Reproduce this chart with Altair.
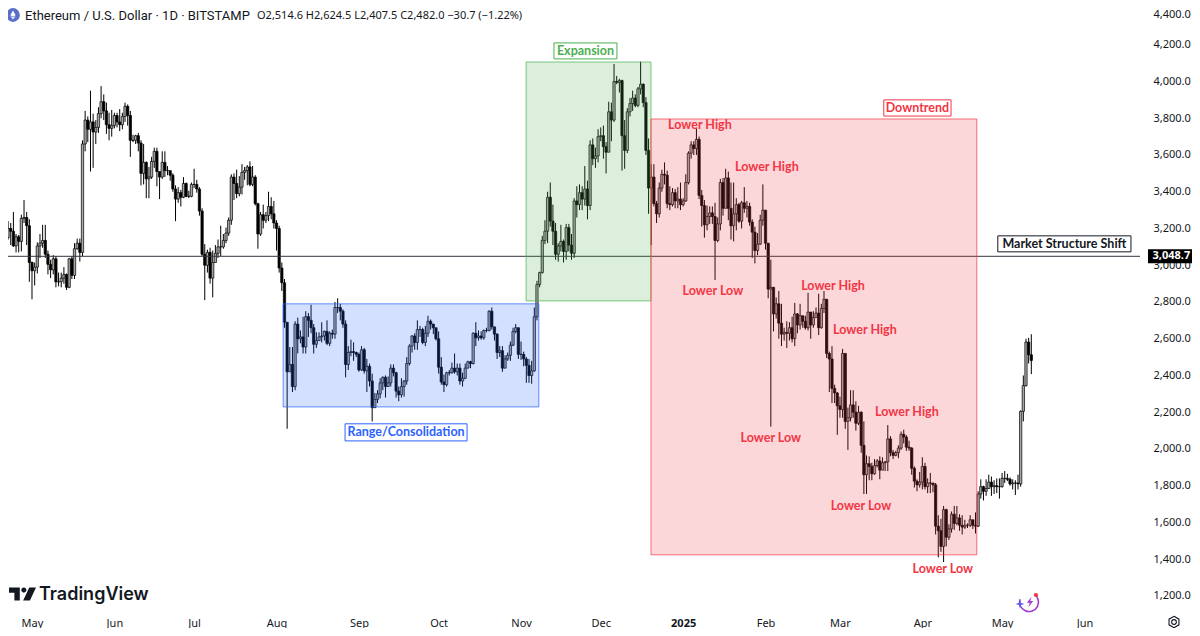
import altair as alt
import pandas as pd

# Daily closes / highs / lows by month, ETH/USD
c_apr24 = [3200,3185,3105,3155,3130,3255,3260,3215,3015]
h_apr24 = [3240,3230,3290,3170,3165,3275,3355,3290,3250]
l_apr24 = [3140,3110,3100,3070,3070,3075,3230,3110,2910]
c_may24 = [2970,2990,3105,3120,3135,3060,3005,2975,3035,2910,2910,2930,2950,2880,3035,2945,3090,3120,3070,3660,3790,3740,3780,3725,3750,3825,3890,3840,3765,3745,3760]
h_may24 = [3020,3015,3125,3170,3220,3220,3080,3030,3055,3050,2960,2960,2990,2955,3040,3050,3120,3145,3145,3680,3840,3810,3950,3825,3790,3860,3975,3930,3885,3830,3845]
l_may24 = [2815,2890,2955,3040,3095,3040,2950,2930,2950,2880,2885,2880,2900,2865,2875,2925,2925,3085,3020,3050,3620,3670,3510,3530,3660,3720,3800,3790,3715,3680,3700]
c_jun24 = [3815,3780,3765,3810,3865,3815,3680,3680,3705,3665,3500,3560,3470,3480,3565,3620,3510,3480,3560,3515,3515,3490,3415,3360,3395,3370,3445,3375,3375,3440]
h_jun24 = [3830,3830,3850,3830,3885,3875,3840,3710,3710,3720,3680,3660,3565,3535,3590,3640,3640,3505,3620,3620,3540,3510,3500,3435,3425,3410,3480,3450,3405,3450]
l_jun24 = [3745,3750,3730,3740,3780,3760,3590,3670,3660,3620,3435,3440,3365,3365,3470,3530,3430,3360,3470,3480,3490,3460,3400,3240,3340,3320,3365,3370,3365,3370]
c_jul24 = [3440,3415,3295,3060,3000,3070,2930,3015,3065,3100,3100,3135,3175,3245,3480,3445,3390,3425,3505,3515,3535,3440,3480,3335,3170,3275,3245,3270,3320,3280,3230]
h_jul24 = [3525,3465,3425,3310,3115,3085,3095,3080,3110,3140,3215,3170,3205,3260,3495,3500,3520,3485,3550,3535,3545,3565,3540,3490,3340,3290,3330,3290,3400,3370,3350]
l_jul24 = [3420,3395,3270,3050,2810,2960,2900,2825,3015,3040,3050,3090,3120,3160,3220,3355,3365,3375,3385,3465,3435,3430,3430,3325,3090,3160,3200,3230,3240,3250,3200]
c_aug24 = [3200,2985,2905,2690,2420,2460,2340,2680,2600,2610,2555,2720,2700,2660,2570,2590,2610,2615,2640,2575,2630,2625,2770,2770,2750,2680,2460,2525,2530,2525,2515]
h_aug24 = [3245,3215,3015,2925,2550,2555,2555,2695,2715,2645,2720,2750,2740,2785,2680,2635,2635,2690,2645,2700,2640,2650,2800,2820,2790,2760,2700,2560,2595,2580,2530]
l_aug24 = [3080,2960,2860,2660,2110,2420,2310,2320,2520,2575,2520,2520,2610,2630,2520,2550,2590,2580,2590,2565,2560,2600,2600,2740,2700,2660,2390,2430,2505,2480,2500]
c_sep24 = [2430,2540,2425,2450,2370,2225,2270,2300,2360,2390,2340,2360,2440,2415,2315,2295,2340,2370,2465,2560,2615,2580,2650,2650,2580,2630,2695,2680,2660,2600]
h_sep24 = [2525,2560,2550,2490,2465,2410,2305,2320,2385,2395,2400,2395,2460,2460,2420,2340,2385,2375,2500,2570,2620,2630,2700,2670,2660,2670,2725,2705,2680,2655]
l_sep24 = [2420,2425,2410,2310,2340,2150,2225,2250,2275,2320,2280,2340,2340,2395,2280,2260,2280,2285,2350,2455,2525,2540,2540,2610,2570,2560,2610,2650,2625,2590]
c_oct24 = [2445,2365,2350,2415,2415,2440,2420,2440,2370,2385,2440,2475,2465,2630,2605,2615,2605,2645,2645,2750,2665,2625,2525,2535,2440,2490,2510,2565,2640,2660,2515]
h_oct24 = [2640,2500,2405,2420,2430,2470,2520,2465,2465,2415,2465,2480,2480,2635,2690,2645,2640,2650,2660,2755,2770,2655,2630,2560,2560,2510,2525,2585,2660,2680,2660]
l_oct24 = [2410,2350,2310,2340,2400,2410,2410,2400,2350,2340,2380,2440,2440,2460,2560,2590,2595,2595,2635,2640,2650,2590,2490,2500,2420,2440,2480,2480,2560,2630,2490]
c_nov24 = [2515,2490,2455,2400,2425,2720,2895,2960,3135,3185,3370,3240,3185,3060,3105,3130,3075,3205,3110,3065,3350,3330,3395,3360,3415,3325,3655,3580,3595,3700]
h_nov24 = [2585,2530,2500,2490,2480,2770,2915,2965,3160,3245,3400,3450,3330,3230,3120,3220,3140,3225,3225,3170,3365,3430,3440,3430,3540,3460,3680,3690,3640,3740]
l_nov24 = [2485,2450,2360,2360,2355,2420,2700,2880,2955,3115,3120,3210,3110,3030,3020,3075,3015,3030,3075,3030,3040,3260,3300,3300,3325,3250,3300,3545,3530,3560]
c_dec24 = [3705,3645,3615,3835,3790,4000,3995,4005,3705,3625,3835,3880,3910,3870,3960,3985,3885,3625,3420,3480,3335,3280,3420,3495,3490,3335,3330,3395,3350,3360,3330]
h_dec24 = [3750,3760,3670,3890,3885,4095,4030,4015,4010,3790,3855,3910,3950,3930,3970,4108,3990,3915,3690,3550,3550,3350,3450,3520,3560,3515,3430,3420,3415,3425,3450]
l_dec24 = [3675,3580,3500,3620,3675,3780,3985,3940,3515,3525,3610,3810,3840,3860,3860,3930,3860,3600,3280,3110,3320,3230,3260,3400,3440,3310,3300,3320,3310,3310,3300]
c_jan25 = [3350,3450,3610,3655,3635,3685,3380,3325,3220,3265,3285,3265,3135,3225,3450,3310,3475,3310,3215,3280,3330,3240,3340,3310,3320,3235,3180,3080,3115,3245,3300]
h_jan25 = [3365,3495,3620,3675,3675,3745,3700,3410,3355,3325,3320,3320,3340,3260,3470,3475,3525,3510,3450,3450,3365,3340,3350,3425,3350,3340,3250,3210,3175,3275,3440]
l_jan25 = [3320,3345,3440,3580,3600,3600,3360,3210,3150,3190,3225,3225,2920,3125,3190,3270,3310,3245,3140,3130,3190,3230,3200,3285,3260,3215,3040,3010,3055,3110,3215]
c_feb25 = [3120,2870,2880,2735,2790,2685,2625,2635,2630,2660,2600,2735,2675,2725,2695,2660,2745,2675,2715,2740,2660,2765,2815,2520,2490,2330,2305,2235]
h_feb25 = [3300,3120,3030,2880,2825,2860,2790,2660,2695,2690,2720,2795,2740,2790,2725,2725,2850,2745,2750,2770,2845,2790,2860,2815,2530,2560,2350,2310]
l_feb25 = [3085,2820,2122,2640,2710,2600,2560,2590,2550,2590,2580,2560,2630,2650,2660,2650,2645,2600,2660,2720,2620,2655,2740,2495,2310,2250,2250,2077]
c_mar25 = [2215,2520,2150,2170,2240,2200,2140,2200,2020,1860,1920,1905,1865,1910,1935,1885,1925,1930,2055,1980,1965,1980,2005,2080,2065,2010,2005,1895,1825,1805,1820]
h_mar25 = [2285,2545,2520,2225,2320,2320,2260,2235,2205,2150,1965,1960,1925,1945,1945,1960,1955,1935,2130,2070,1995,1990,2020,2095,2105,2075,2045,2010,1905,1835,1875]
l_mar25 = [2170,2170,2110,1995,2150,2170,2100,2130,1980,1755,1755,1830,1830,1860,1900,1835,1885,1880,1880,1960,1945,1960,1950,1995,2030,1990,1990,1860,1790,1770,1790]
c_apr25 = [1905,1795,1815,1815,1805,1580,1555,1470,1670,1520,1565,1645,1595,1625,1585,1575,1585,1585,1615,1585,1580,1755,1795,1770,1785,1820,1795,1800,1795,1795]
h_apr25 = [1955,1925,1840,1870,1815,1815,1640,1620,1690,1675,1590,1660,1690,1690,1645,1640,1615,1595,1640,1610,1655,1770,1835,1800,1835,1860,1850,1830,1840,1840]
l_apr25 = [1780,1780,1760,1760,1765,1535,1410,1440,1385,1470,1505,1545,1560,1585,1555,1535,1565,1570,1575,1565,1540,1575,1730,1720,1745,1785,1745,1755,1760,1730]
c_may25 = [1840,1840,1835,1810,1815,1815,1810,2205,2345,2582,2512.7,2482]
h_may25 = [1870,1880,1865,1845,1835,1830,1860,2210,2400,2600,2605,2624.5]
l_may25 = [1790,1815,1825,1800,1780,1750,1780,1795,2150,2340,2465,2407.5]

months = [
    ("apr24", c_apr24, h_apr24, l_apr24), ("may24", c_may24, h_may24, l_may24),
    ("jun24", c_jun24, h_jun24, l_jun24), ("jul24", c_jul24, h_jul24, l_jul24),
    ("aug24", c_aug24, h_aug24, l_aug24), ("sep24", c_sep24, h_sep24, l_sep24),
    ("oct24", c_oct24, h_oct24, l_oct24), ("nov24", c_nov24, h_nov24, l_nov24),
    ("dec24", c_dec24, h_dec24, l_dec24), ("jan25", c_jan25, h_jan25, l_jan25),
    ("feb25", c_feb25, h_feb25, l_feb25), ("mar25", c_mar25, h_mar25, l_mar25),
    ("apr25", c_apr25, h_apr25, l_apr25), ("may25", c_may25, h_may25, l_may25),
]
closes, highs, lows = [], [], []
for name, c, h, l in months:
    if not (len(c) == len(h) == len(l)):
        raise SystemExit(f"{name}: {len(c)} {len(h)} {len(l)}")
    closes += c; highs += h; lows += l

FIRST_OPEN = 3150
FIRST_DAY = -9  # days relative to 1 May 2024
opens = [FIRST_OPEN] + closes[:-1]
candles = pd.DataFrame({
    "day": [FIRST_DAY + i for i in range(len(closes))],
    "open": opens, "close": closes, "high": highs, "low": lows,
})

month_days = [0, 31, 61, 92, 123, 153, 184, 214, 245, 276, 304, 335, 365, 396]
month_names = ["May","Jun","Jul","Aug","Sep","Oct","Nov","Dec","2025","Feb","Mar","Apr","May","Jun"]
price_ticks = list(range(1200, 4600, 200))

zones = pd.DataFrame({
    "x": [94.5, 185.9, 232.9], "x2": [190.7, 232.9, 355.5],
    "y": [2790, 4106, 3796], "y2": [2229, 2806, 1424],
    "col": ["#2962ff", "#4caf50", "#f23645"],
})
boxes = pd.DataFrame({
    "label": ["Expansion", "Downtrend", "Range/Consolidation", "Market Structure Shift"],
    "x": [196.4, 320.5, 117.8, 363.4], "x2": [220.1, 345.8, 163.7, 413.5],
    "y": [4210, 3900, 2137, 3160], "y2": [4123, 3812, 2044, 3073],
    "col": ["#4caf50", "#f23645", "#2962ff", "#131722"],
})
boxes["cx"] = (boxes.x + boxes.x2) / 2
boxes["cy"] = (boxes.y + boxes.y2) / 2
structure = pd.DataFrame({
    "label": ["Lower High"] * 5 + ["Lower Low"] * 4,
    "x": [251.3, 276.5, 301.4, 313.4, 329.2, 256.2, 278.0, 311.9, 342.7],
    "y": [3764, 3535, 2888, 2648, 2202, 2860, 2061, 1691, 1348],
})
LEVEL = 3048.7
level_df = pd.DataFrame({"y": [LEVEL], "x": [-9.03], "x2": [416.9], "bx": [419.9], "bx2": [436.6],
                         "cx": [428.7], "label": ["3,048.7"]})

HEADER_TITLE = "Ethereum / U.S. Dollar · 1D · BITSTAMP"
HEADER_OHLC = "O2,514.6 H2,624.5 L2,407.5 C2,482.0 −30.7 (−1.22%)"

W, H = 1132, 602
xs = alt.Scale(domain=[-9.03, 416.9], nice=False, zero=False, padding=0)
ys = alt.Scale(domain=[1123.8, 4400], nice=False, zero=False, padding=0)
FONT = "Noto Sans"
INK = "#131722"
one = pd.DataFrame({"a": [0]})

label_map = "{" + ",".join(f"'{d}':'{n}'" for d, n in zip(month_days, month_names)) + "}"
x_axis = alt.Axis(values=month_days, labelExpr=f"({label_map})[''+datum.value]", title=None,
                  ticks=False, domain=False, grid=False, labelFont=FONT, labelFontSize=11,
                  labelColor=INK, labelPadding=7, labelOverlap=False, labelFlush=False,
                  labelFontWeight={"condition": {"test": "datum.value == 245", "value": "bold"}, "value": "normal"})
y_axis = alt.Axis(orient="right", values=price_ticks, format=",.1f", title=None, ticks=False,
                  domain=False, grid=False, labelFont=FONT, labelFontSize=11, labelColor=INK,
                  labelPadding=13, labelFlush=True, labelFlushOffset=0)

def X(f):
    return alt.X(f, scale=xs, axis=x_axis)
def Y(f):
    return alt.Y(f, scale=ys, axis=y_axis)

wicks = alt.Chart(candles).mark_rule(color="black", strokeWidth=1).encode(
    x=X("day:Q"), y=Y("low:Q"), y2="high:Q",
)
bodies = alt.Chart(candles).mark_bar(size=2.3, stroke="black", strokeWidth=0.7).encode(
    x=X("day:Q"), y=Y("open:Q"), y2="close:Q",
    fill=alt.condition("datum.close >= datum.open", alt.value("#a8a8a8"), alt.value("black")),
)
level = alt.Chart(level_df).mark_rule(color="#33363f", strokeWidth=1).encode(
    x=X("x:Q"), x2="x2:Q", y=Y("y:Q"))
zone = alt.Chart(zones).mark_rect(fillOpacity=0.2, strokeOpacity=0.7, strokeWidth=1).encode(
    x=X("x:Q"), x2="x2:Q", y=Y("y:Q"), y2="y2:Q",
    fill=alt.Fill("col:N", scale=None), stroke=alt.Stroke("col:N", scale=None),
)
box = alt.Chart(boxes).mark_rect(fill="white", strokeWidth=1).encode(
    x=X("x:Q"), x2="x2:Q", y=Y("y:Q"), y2="y2:Q",
    stroke=alt.Stroke("col:N", scale=None),
)
box_text = alt.Chart(boxes).mark_text(font="Lato", fontWeight="bold", fontSize=12.5, baseline="middle", align="center").encode(
    x=X("cx:Q"), y=Y("cy:Q"), text="label:N", color=alt.Color("col:N", scale=None),
)
struct_text = alt.Chart(structure).mark_text(font="Lato", fontWeight="bold", fontSize=12.5, baseline="middle", align="center", color="#f23645").encode(
    x=X("x:Q"), y=Y("y:Q"), text="label:N")
level_box = alt.Chart(level_df).mark_rect(fill="#000000", height=14).encode(
    x=X("bx:Q"), x2="bx2:Q", y=Y("y:Q"))
level_text = alt.Chart(level_df).mark_text(font=FONT, fontWeight="bold", fontSize=11, color="white", baseline="middle").encode(
    x=X("cx:Q"), y=Y("y:Q"), text="label:N")

def deco_text(text, x, y, size, weight="normal", font=FONT, color=INK):
    return alt.Chart(pd.DataFrame({"t": [text]})).mark_text(
        align="left", baseline="middle", fontSize=size, fontWeight=weight, font=font, color=color
    ).encode(x=alt.value(x), y=alt.value(y), text="t:N")

def deco_shape(path, x, y, size, color, filled=True, sw=1.5):
    if filled:
        kw = dict(filled=True, size=size, shape=path, opacity=1, fill=color)
    else:
        kw = dict(filled=False, size=size, shape=path, opacity=1, stroke=color, strokeWidth=sw)
    return alt.Chart(one).mark_point(**kw).encode(x=alt.value(x), y=alt.value(y))

DIAMOND = "M0,-1 L0.6,0.05 L0,0.4 L-0.6,0.05 Z M0,0.55 L0.6,0.2 L0,1 L-0.6,0.2 Z"
TV_LOGO = ("M-1,-0.48 H-0.2 V0.48 H-0.6 V-0.1 H-1 Z "
           "M0.1,-0.48 A0.19,0.19 0 1 1 0.1,-0.1 A0.19,0.19 0 1 1 0.1,-0.48 Z "
           "M0.5,-0.48 H1 L0.55,0.48 H0.05 Z")
BOLT = "M0.3,-1 L-0.6,0.15 H-0.05 L-0.3,1 L0.6,-0.2 H0.05 Z"
STAR = "M0,-1 L0.25,-0.25 L1,0 L0.25,0.25 L0,1 L-0.25,0.25 L-1,0 L-0.25,-0.25 Z"
HEX = "M0,-1 L0.87,-0.5 L0.87,0.5 L0,1 L-0.87,0.5 L-0.87,-0.5 Z"
RING = "M0.55,-0.83 A1,1 0 1 1 -0.95,-0.3"

decor = [
    deco_shape("circle", 5, 7, 190, "#5a6fc8"),
    deco_shape(DIAMOND, 5, 7, 80, "white"),
    deco_text(HEADER_TITLE, 17, 8, 13, font="Roboto"),
    deco_text(HEADER_OHLC, 249, 8, 11),
    deco_shape(TV_LOGO, 14.5, 586, 729, "#131722"),
    deco_text("TradingView", 31, 587, 18, weight=600, font="Inter"),
    deco_shape(RING, 1021, 594, 360, "#a13bcf", filled=False, sw=1.6),
    deco_shape(BOLT, 1022, 594, 110, "#a13bcf"),
    deco_shape(STAR, 1012, 596, 80, "#5e5ce6"),
    deco_shape("circle", 1028, 587, 18, "#f23645"),
    deco_shape(HEX, 1166, 614, 130, INK, filled=False, sw=1.1),
    deco_shape("circle", 1166, 614, 22, INK, filled=False, sw=1.1),
]

chart = alt.layer(wicks, bodies, level, zone, box, box_text, struct_text, level_box, level_text, *decor).properties(
    width=W, height=H,
    autosize=alt.AutoSizeParams(type="none"),
    padding={"left": 0, "top": 0, "right": 52, "bottom": 18},
    background="white",
).configure_view(stroke=None)

chart.save("out.html", embed_options={"renderer": "svg", "actions": False})
